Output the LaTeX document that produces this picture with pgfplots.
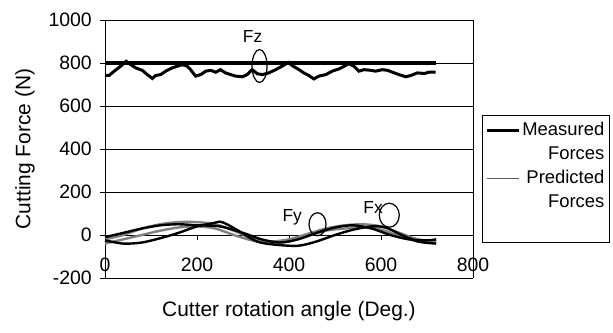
\documentclass[border=0pt]{standalone}
\usepackage{fontspec}
\setmainfont{Liberation Sans}
\usepackage{pgfplots}
\pgfplotsset{compat=1.18}
\begin{document}
\begin{tikzpicture}
\begin{axis}[
 at={(0,0)}, anchor=south west,
 scale only axis, width=368bp, height=258bp,
 xmin=0, xmax=800, ymin=-200, ymax=1000,
 axis x line=middle, axis y line=left,
 axis line style={-, black, line width=0.8bp},
 xtick={0,200,400,600,800}, ytick={-200,0,200,400,600,800,1000},
 hide obscured x ticks=false, hide obscured y ticks=false,
 ymajorgrids, grid style={black, line width=0.8bp},
 tick style={black, line width=0.8bp}, major tick length=5bp,
 tick align=outside,
 /pgf/number format/assume math mode=true,
 /pgf/number format/set thousands separator={},
 ticklabel style={font=\fontsize{19.5}{19.5}\selectfont},
 x tick label style={anchor=north, inner sep=0pt, yshift=-18bp},
 y tick label style={anchor=east, inner sep=0pt, xshift=-8bp},
 xlabel={Cutter rotation angle (Deg.)},
 ylabel={Cutting Force (N)},
 label style={font=\fontsize{21}{21}\selectfont},
 xlabel style={at={([yshift=-33bp]axis description cs:0.5,0)}, anchor=center},
 ylabel style={at={([xshift=-80bp]axis description cs:0,0.5)}, anchor=center, rotate=0},
 clip=false,
 legend cell align=right,
 legend image code/.code={\draw[#1] (0bp,0bp) -- (32bp,0bp);},
 legend style={at={(1,1)}, anchor=north west, xshift=9bp, yshift=-95bp,
   draw=black, line width=0.8bp, font=\fontsize{18.5}{22}\selectfont,
   inner xsep=3bp, inner ysep=3.5bp, row sep=0bp,
   nodes={text height=13bp, text depth=4bp, inner ysep=3.5bp}},
]
\addlegendimage{black, line width=3bp}
\addlegendentry{Measured}
\addlegendimage{empty legend}
\addlegendentry{Forces}
\addlegendimage{black!65, line width=0.9bp}
\addlegendentry{Predicted}
\addlegendimage{empty legend}
\addlegendentry{Forces}
\addlegendimage{empty legend}
\addlegendentry{}

% Fz measured straight line
\addplot[black, line width=3.2bp, forget plot] coordinates {(0,800) (720,800)};
% Fz wavy
\addplot[black, line width=3bp, forget plot] coordinates {
(0,742) (9,742) (20,762) (34,785) (46,808) (56,792) (67,777) (81,766) (92,746)
(103,728) (110,742) (121,746) (132,762) (146,777) (157,785) (168,792) (179,785)
(186,769) (197,739) (208,746) (219,762) (230,766) (241,757) (251,769) (262,754)
(273,746) (284,739) (299,736) (309,746) (320,769) (331,750) (342,746) (356,754)
(371,769) (385,785) (398,803) (409,785) (422,769) (432,754) (443,742) (454,726)
(465,739) (480,746) (494,762) (509,773) (520,785) (530,797) (541,785) (552,762)
(563,769) (578,766) (588,762) (603,769) (614,766) (625,757) (639,746) (654,736)
(665,742) (679,754) (694,751) (704,757) (719,757)};

% Predicted (gray)
\addplot[black!50, line width=2.4bp, smooth, forget plot] coordinates {
(0,-20) (40,0) (80,30) (120,50) (160,60) (200,60) (240,50) (280,20) (320,-15)
(360,-30) (400,-20) (440,5) (480,30) (520,45) (560,50) (600,40) (640,10) (680,-20) (720,-30)};
\addplot[black!50, line width=2.4bp, smooth, forget plot] coordinates {
(0,-40) (40,-20) (80,0) (120,20) (160,35) (200,40) (240,30) (280,0) (320,-25)
(360,-35) (400,-30) (440,-5) (480,20) (520,30) (560,35) (600,25) (640,-5) (680,-30) (720,-35)};

% Measured Fx, Fy (black)
\addplot[black, line width=2.4bp, smooth, forget plot] coordinates {
(0,-25) (40,-40) (80,-35) (120,-15) (160,10) (200,40) (235,55) (250,62) (265,50) (290,20)
(330,-30) (370,-45) (420,-50) (460,-30) (500,0) (540,25) (580,40) (610,35) (640,5) (680,-30) (720,-40)};
\addplot[black, line width=2.4bp, smooth, forget plot] coordinates {
(0,-10) (40,10) (80,30) (120,45) (160,50) (200,45) (250,40) (300,10) (340,-20)
(380,-35) (420,-20) (460,10) (500,35) (540,45) (580,30) (620,0) (660,-20) (700,-25) (720,-20)};

% annotations
\draw[black, line width=1.2bp] (axis cs:336,786) ellipse [x radius=7.5bp, y radius=16.5bp];
\node[font=\fontsize{17.5}{17.5}\selectfont, inner sep=0pt] at (axis cs:321,924) {Fz};
\draw[black, line width=1.2bp] (axis cs:462,50) ellipse [x radius=8.5bp, y radius=11.5bp];
\node[font=\fontsize{17.5}{17.5}\selectfont, inner sep=0pt] at (axis cs:407,81) {Fy};
\draw[black, line width=1.2bp] (axis cs:618,92) ellipse [x radius=10bp, y radius=12bp];
\node[font=\fontsize{17.5}{17.5}\selectfont, inner sep=0pt] at (axis cs:583,127) {Fx};

% right border
\draw[black, line width=0.8bp] (rel axis cs:1,0) -- (rel axis cs:1,1);
\end{axis}
\pgfresetboundingbox
\path (-105bp,-55bp) rectangle (508bp,278bp);
\end{tikzpicture}
\end{document}
